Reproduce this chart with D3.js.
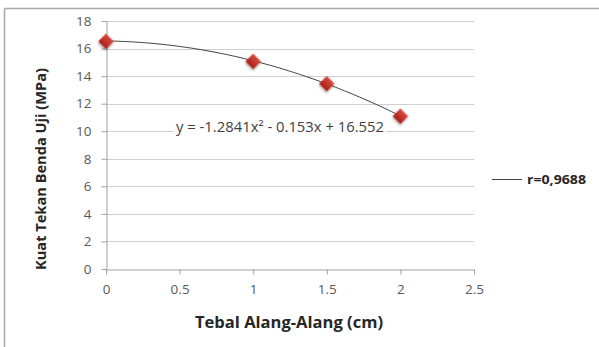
<!DOCTYPE html>
<html><head><meta charset="utf-8">
<script src="https://cdn.jsdelivr.net/npm/d3@7"></script>
<style>body{margin:0;background:#fff;} svg{display:block;}</style>
</head><body>
<svg id="c" width="599" height="347"></svg>
<script>
const thickness = [0, 1, 1.5, 2];
const strength = [16.52, 15.07, 13.45, 11.09];
const trendCoef = [-1.2841, -0.153, 16.552]; // a, b, c
const xTicks = [0, 0.5, 1, 1.5, 2, 2.5];
const yTicks = [0, 2, 4, 6, 8, 10, 12, 14, 16, 18];
const equationLabel = "y = -1.2841x\u00B2 - 0.153x + 16.552";
const legendLabel = "r=0,9688";
const xTitle = "Tebal Alang-Alang (cm)";
const yTitle = "Kuat Tekan Benda Uji (MPa)";

const svg = d3.select("#c");
const font = "'Open Sans', sans-serif";
const x = d3.scaleLinear().domain([0, 2.5]).range([106, 474]);
const y = d3.scaleLinear().domain([0, 18]).range([269, 21]);

// outer frame
svg.append("line").attr("x1",4.5).attr("x2",599).attr("y1",8.5).attr("y2",8.5).attr("stroke","#a6a6a6").attr("stroke-width",1.5);
svg.append("line").attr("x1",4.5).attr("x2",4.5).attr("y1",8.5).attr("y2",347).attr("stroke","#a6a6a6").attr("stroke-width",1.5);

// gridlines
svg.append("g").selectAll("line").data(yTicks.filter(d=>d>0)).join("line")
  .attr("x1",x(0)).attr("x2",x(2.5)).attr("y1",d=>Math.round(y(d))+0.5).attr("y2",d=>Math.round(y(d))+0.5)
  .attr("stroke","#d0d0d0").attr("stroke-width",1);

// axes
const xAxis = svg.append("g").attr("transform",`translate(0,${Math.round(y(0))+0.5})`)
  .call(d3.axisBottom(x).tickValues(xTicks).tickFormat(d=>String(d)).tickSize(5).tickSizeOuter(0).tickPadding(10));
const yAxis = svg.append("g").attr("transform",`translate(${x(0)+0.5},0)`)
  .call(d3.axisLeft(y).tickValues(yTicks).tickSize(5).tickSizeOuter(0).tickPadding(10));
[xAxis,yAxis].forEach(g=>{
  g.selectAll("path,line").attr("stroke","#a0a0a0");
  g.selectAll("text").attr("fill","#595959").style("font-family",font).style("font-size","13.5px");
});

// trendline
const trend = d3.range(0, 2.0001, 0.02).map(v => [v, trendCoef[0]*v*v + trendCoef[1]*v + trendCoef[2]]);
svg.append("path").datum(trend)
  .attr("d", d3.line().x(d=>x(d[0])).y(d=>y(d[1])))
  .attr("fill","none").attr("stroke","#404040").attr("stroke-width",1);

// markers
const defs = svg.append("defs");
const grad = defs.append("linearGradient").attr("id","mg").attr("x1","0").attr("y1","0").attr("x2","0").attr("y2","1");
grad.append("stop").attr("offset","0").attr("stop-color","#d94a3f");
grad.append("stop").attr("offset","1").attr("stop-color","#a8201a");
const f = defs.append("filter").attr("id","sh").attr("x","-50%").attr("y","-50%").attr("width","200%").attr("height","200%");
f.append("feDropShadow").attr("dx",1).attr("dy",1.5).attr("stdDeviation",1.2).attr("flood-color","#000").attr("flood-opacity",0.35);
svg.append("g").selectAll("path").data(thickness.map((t,i)=>[t,strength[i]])).join("path")
  .attr("d", d3.symbol(d3.symbolSquare, 120)())
  .attr("transform", d=>`translate(${x(d[0])},${y(d[1])}) rotate(45)`)
  .attr("fill","url(#mg)").attr("filter","url(#sh)");

// equation label
svg.append("rect").attr("x",174).attr("y",118).attr("width",212).attr("height",17).attr("fill","#fff");
svg.append("text").attr("x",280).attr("y",131.5).attr("text-anchor","middle").attr("textLength",208).attr("lengthAdjust","spacingAndGlyphs")
  .style("font-family",font).style("font-size","14px").attr("fill","#404040").text(equationLabel);

// titles
svg.append("text").attr("x",289).attr("y",328).attr("text-anchor","middle").attr("textLength",188).attr("lengthAdjust","spacingAndGlyphs")
  .style("font-family",font).style("font-size","16.5px").style("font-weight","bold").attr("fill","#262626").text(xTitle);
svg.append("text").attr("transform","translate(46,169) rotate(-90)").attr("text-anchor","middle").attr("textLength",202).attr("lengthAdjust","spacingAndGlyphs")
  .style("font-family",font).style("font-size","14.5px").style("font-weight","bold").attr("fill","#262626").text(yTitle);

// legend
svg.append("line").attr("x1",492).attr("x2",522).attr("y1",179.5).attr("y2",179.5).attr("stroke","#404040").attr("stroke-width",1);
svg.append("text").attr("x",527).attr("y",184).attr("textLength",59).attr("lengthAdjust","spacingAndGlyphs")
  .style("font-family",font).style("font-size","13px").style("font-weight","bold").attr("fill","#262626").text(legendLabel);
</script>
</body></html>
